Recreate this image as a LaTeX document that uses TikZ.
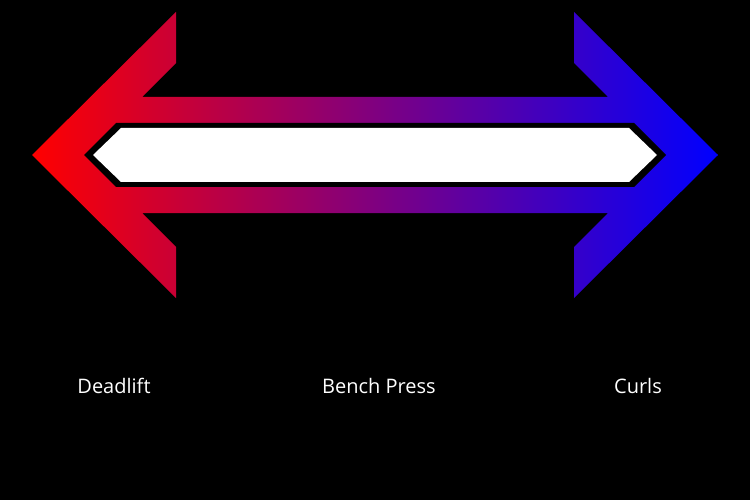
\documentclass[tikz,border=0pt]{standalone}
\usepackage{fontspec}
\setmainfont{Open Sans}
\begin{document}
\begin{tikzpicture}[x=1pt,y=-1pt,
  lbl/.style={text=white,font=\fontsize{20}{24}\selectfont,inner sep=0pt}]
\fill[black] (0,0) rectangle (750,500);
\useasboundingbox (0,0) rectangle (750,500);
\shade[left color=red,right color=blue,shading angle=90]
 (32,155)--(176,12)--(176,63)--(142,97)--(608,97)--(574,63)--(574,12)--(718,155)
 --(574,298)--(574,247)--(608,213)--(142,213)--(176,247)--(176,298)--cycle;
\fill[black] (84,155)--(116,123)--(634,123)--(666,155)--(634,187)--(116,187)--cycle;
\fill[white] (93,155)--(121,128)--(629,128)--(657,155)--(629,182)--(121,182)--cycle;
\node[lbl] (d) at (114,386) {Deadlift};
\node[lbl] (b) at (379,386) {Bench Press};
\node[lbl] (c) at (638,386) {Curls};
\end{tikzpicture}
\end{document}
